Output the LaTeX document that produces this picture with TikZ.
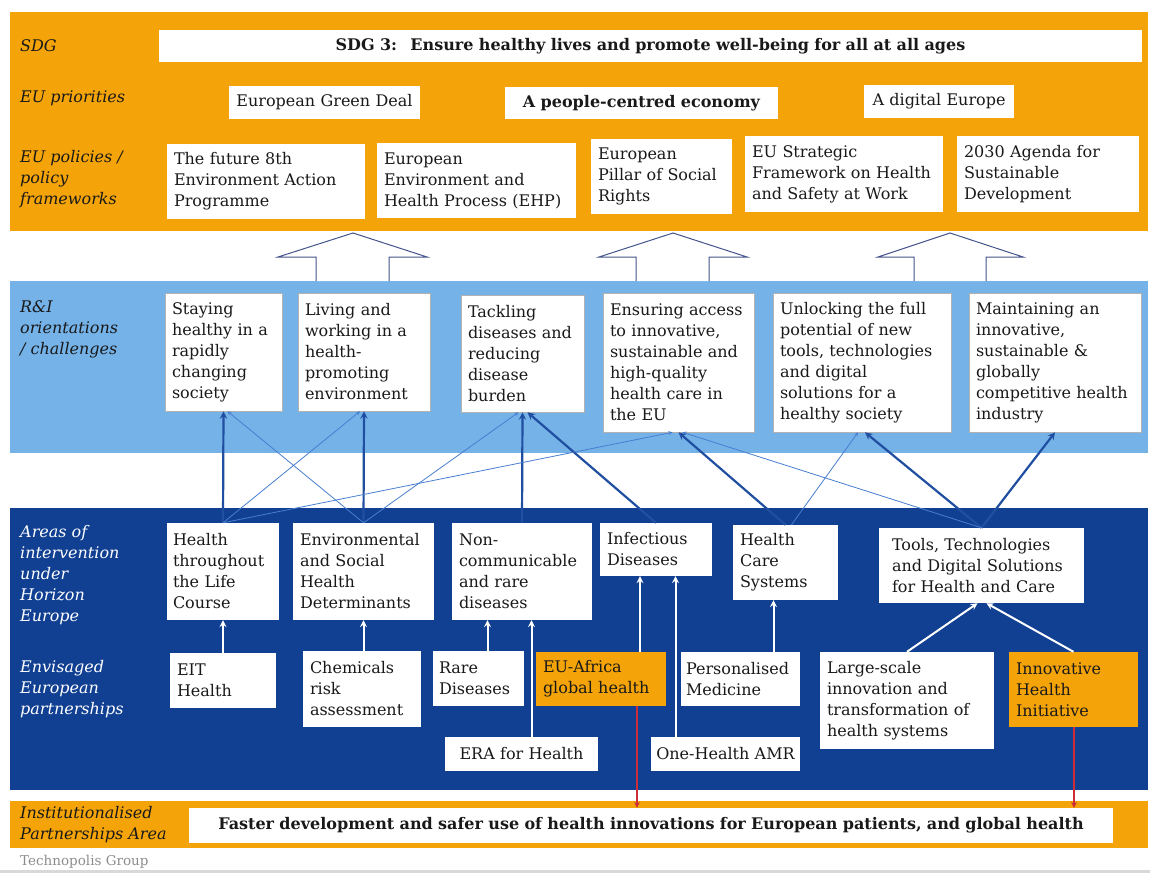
\documentclass[tikz,border=0pt]{standalone}
\usepackage{fontspec}
\setmainfont{DejaVu Serif}
\usetikzlibrary{shapes,arrows,positioning}
\definecolor{sdgorange}{RGB}{244,164,8}
\definecolor{rilight}{RGB}{116,178,232}
\definecolor{hedark}{RGB}{17,64,146}
\definecolor{linkdark}{RGB}{32,78,160}
\definecolor{linklight}{RGB}{72,126,208}
\definecolor{arrowline}{RGB}{68,84,140}
\definecolor{redlink}{RGB}{205,45,55}
\definecolor{boxtext}{RGB}{25,25,25}

\begin{document}
\begin{tikzpicture}[x=1pt, y=-1pt, >=stealth,
	every node/.style={font=\fontsize{16}{21}\selectfont, text=boxtext},
	wbox/.style={fill=white, inner xsep=7pt, inner ysep=2pt, align=left},
	cbox/.style={wbox, draw=black!30, line width=0.6pt},
	obox/.style={wbox, fill=sdgorange},
	side/.style={anchor=west, align=left, inner sep=0pt, font=\fontsize{16}{21}\selectfont\itshape},
	strong/.style={->, line width=2.2pt, draw=linkdark},
	weak/.style={->, line width=0.8pt, draw=linklight},
	up/.style={->, line width=2pt, draw=white},
	down/.style={->, line width=1.5pt, draw=redlink},
	hollow/.style={draw=arrowline, line width=1pt, fill=white}]
	\useasboundingbox (0,0) rectangle (1150,877);

	\fill[sdgorange] (10,12) rectangle (1148,231);
	\fill[rilight]   (10,281) rectangle (1148,453);
	\fill[hedark]    (10,508) rectangle (1148,790);
	\fill[sdgorange] (10,801) rectangle (1148,848);
	\fill[black!15]  (0,870) rectangle (1150,873);

	\draw[hollow] (316,281) -- (316,257) -- (278,257) -- (353,233) -- (427,257) -- (389,257) -- (389,281);
	\draw[hollow] (636,281) -- (636,257) -- (599,257) -- (673,233) -- (747,257) -- (709,257) -- (709,281);
	\draw[hollow] (914,281) -- (914,257) -- (878,257) -- (950,233) -- (1023,257) -- (986,257) -- (986,281);

	\node[side] (sdglab)  at (20,46)    {SDG};
	\node[side] (prilab)  at (20,98)    {EU priorities};
	\node[side] (pollab)  at (20,179)   {EU policies /\\policy\\frameworks};
	\node[side] (rilab)   at (20,329)   {R\&I\\orientations\\/ challenges};
	\node[side, text=white] (arealab) at (20,575.5) {Areas of\\intervention\\under\\Horizon\\Europe};
	\node[side, text=white] (partlab) at (20,689)   {Envisaged\\European\\partnerships};
	\node[side] (instlab) at (20,824.5) {Institutionalised\\Partnerships Area};
	\node[anchor=west, inner sep=0pt, text=black!45, font=\fontsize{13.5}{16}\selectfont] (techlab) at (20,862) {Technopolis Group};

	\node[wbox, align=center, text width=969pt, minimum height=32pt, font=\fontsize{16}{21}\selectfont\bfseries] (SDG) at (650.5,46)
		{SDG 3:~ Ensure healthy lives and promote well-being for all at all ages};
	\node[wbox, align=center, text width=177pt, minimum height=33pt] (GreenDeal) at (324.5,102.5) {European Green Deal};
	\node[wbox, align=center, text width=259pt, minimum height=32pt, font=\fontsize{16}{21}\selectfont\bfseries] (People) at (641.5,103) {A people-centred economy};
	\node[wbox, align=center, text width=136pt, minimum height=33pt] (Digital) at (939,101.5) {A digital Europe};

	\node[wbox, text width=184pt, minimum height=75pt] (P1) at (266,181.5)  {The future 8th\\Environment Action\\Programme};
	\node[wbox, text width=185pt, minimum height=75pt] (P2) at (476.5,180.5) {European\\Environment and\\Health Process (EHP)};
	\node[wbox, text width=127pt, minimum height=75pt] (P3) at (661.5,176.5) {European\\Pillar of Social\\Rights};
	\node[wbox, text width=184pt, minimum height=76pt] (P4) at (844,174)    {EU Strategic\\Framework on Health\\and Safety at Work};
	\node[wbox, text width=168pt, minimum height=76pt] (P5) at (1048,174)   {2030 Agenda for\\Sustainable\\Development};

	\node[cbox, text width=103pt, minimum height=118pt] (C1) at (223.5,352) {Staying\\healthy in a\\rapidly\\changing\\society};
	\node[cbox, text width=118pt, minimum height=118pt] (C2) at (364,352)   {Living and\\working in a\\health-\\promoting\\environment};
	\node[cbox, text width=109pt, minimum height=117pt] (C3) at (522.5,353.5) {Tackling\\diseases and\\reducing\\disease\\burden};
	\node[cbox, text width=137pt, minimum height=139pt] (C4) at (678.5,362.5) {Ensuring access\\to innovative,\\sustainable and\\high-quality\\health care in\\the EU};
	\node[cbox, text width=164pt, minimum height=139pt] (C5) at (862,362.5)   {Unlocking the full\\potential of new\\tools, technologies\\and digital\\solutions for a\\healthy society};
	\node[cbox, text width=158pt, minimum height=139pt] (C6) at (1055,362.5)  {Maintaining an\\innovative,\\sustainable \&\\globally\\competitive health\\industry};

	\node[wbox, text width=100pt, minimum height=97pt, inner xsep=6pt] (A1) at (223,571.5) {Health\\throughout\\the Life\\Course};
	\node[wbox, text width=127pt, minimum height=97pt] (A2) at (363.5,571.5) {Environmental\\and Social\\Health\\Determinants};
	\node[wbox, text width=126pt, minimum height=97pt] (A3) at (522,571.5)   {Non-\\communicable\\and rare\\diseases};
	\node[wbox, text width=98pt,  minimum height=53pt] (A4) at (656,549.5)   {Infectious\\Diseases};
	\node[wbox, text width=91pt,  minimum height=75pt] (A5) at (785.5,562.5) {Health\\Care\\Systems};
	\node[wbox, text width=179pt, minimum height=75pt, inner xsep=13pt] (A6) at (981.5,565.5) {Tools, Technologies\\and Digital Solutions\\for Health and Care};

	\node[wbox, text width=92pt,  minimum height=55pt] (EIT) at (223,680.5)      {EIT\\Health};
	\node[wbox, text width=104pt, minimum height=76pt] (Chem) at (362,689)       {Chemicals\\risk\\assessment};
	\node[wbox, text width=79pt,  minimum height=55pt, inner xsep=6pt] (Rare) at (478.5,678.5) {Rare\\Diseases};
	\node[obox, text width=116pt, minimum height=54pt] (EUAfrica) at (601,679)   {EU-Africa\\global health};
	\node[wbox, align=center, text width=141pt, minimum height=34pt, inner xsep=6pt] (ERA) at (521.5,754) {ERA for Health};
	\node[wbox, text width=109pt, minimum height=54pt, inner xsep=5pt] (Personal) at (740.5,679) {Personalised\\Medicine};
	\node[wbox, align=center, text width=143pt, minimum height=34pt, inner xsep=3pt] (OneHealth) at (725.5,754) {One-Health AMR};
	\node[wbox, text width=160pt, minimum height=97pt] (LargeScale) at (907,700.5) {Large-scale\\innovation and\\transformation of\\health systems};
	\node[obox, text width=115pt, minimum height=75pt] (Innov) at (1073.5,689.5) {Innovative\\Health\\Initiative};

	\node[wbox, align=center, text width=910pt, minimum height=35pt, font=\fontsize{16}{21}\selectfont\bfseries] (Faster) at (651,825.5)
		{Faster development and safer use of health innovations for European patients, and global health};

	\path (A1.north) edge[strong] (C1.south)
		(A2.north) edge[strong] (C2.south)
		(A3.north) edge[strong] (C3.south)
		(A4.north) edge[strong] ([xshift=5pt]C3.south)
		(A5.north) edge[strong] (C4.south)
		(A6.north) edge[strong] ([xshift=3pt]C5.south)
		(A6.north) edge[strong] (C6.south)
		(A1.north) edge[weak] ([xshift=-4pt]C2.south)
		(A1.north) edge[weak] ([xshift=-6pt]C4.south)
		(A2.north) edge[weak] ([xshift=4pt]C1.south)
		(A2.north) edge[weak] ([xshift=-4pt]C3.south)
		([xshift=6pt]A5.north) edge[weak] ([xshift=-4pt]C5.south)
		(A6.north) edge[weak] ([xshift=4pt]C4.south);

	\path (EIT.north) edge[up] (A1.south)
		([xshift=1.5pt]Chem.north) edge[up] (A2.south)
		([xshift=9pt]Rare.north) edge[up] ([xshift=-34.5pt]A3.south)
		([xshift=10pt]ERA.north) edge[up] ([xshift=9.5pt]A3.south)
		([xshift=39pt]EUAfrica.north) edge[up] ([xshift=-16pt]A4.south)
		([xshift=-50pt]OneHealth.north) edge[up] ([xshift=19.5pt]A4.south)
		([xshift=33pt]Personal.north) edge[up] ([xshift=-12pt]A5.south)
		(LargeScale.north) edge[up] ([xshift=-4pt]A6.south)
		(Innov.north) edge[up] ([xshift=5pt]A6.south);

	\path ([xshift=36pt]EUAfrica.south) edge[down] ([xshift=-14pt]Faster.north)
		([xshift=0.5pt]Innov.south) edge[down] ([xshift=423pt]Faster.north);
\end{tikzpicture}
\end{document}
